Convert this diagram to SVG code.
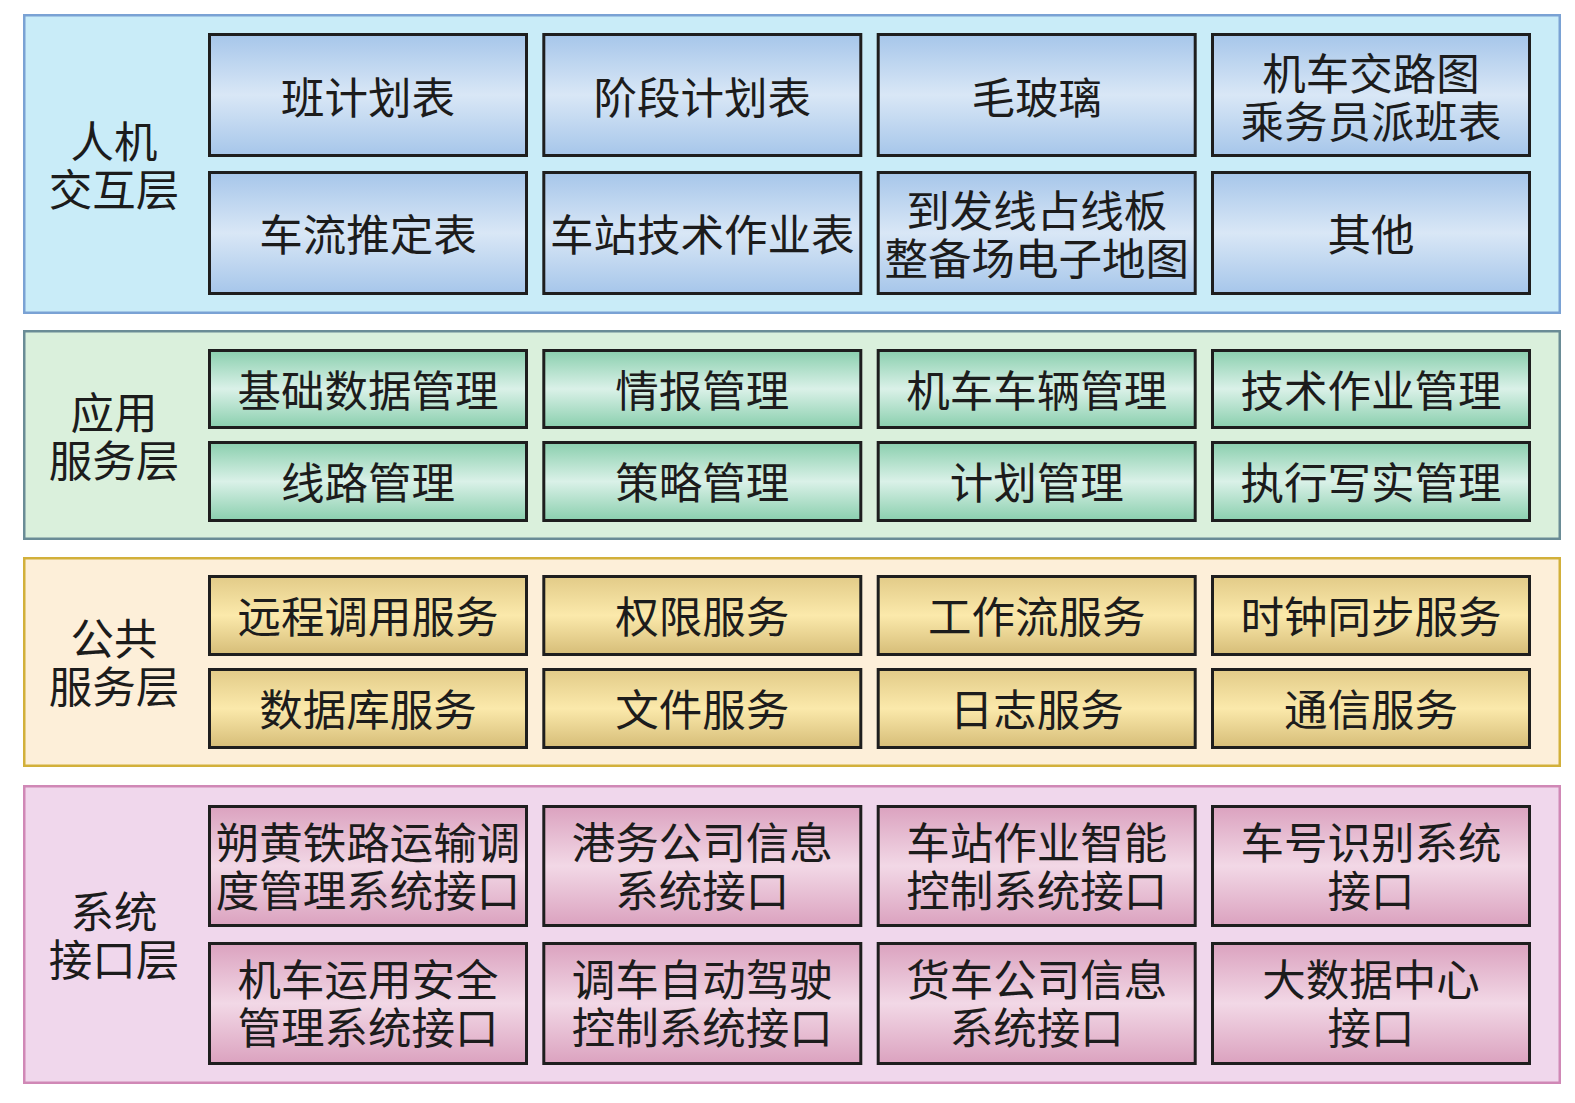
<svg xmlns="http://www.w3.org/2000/svg" width="1575" height="1103" viewBox="0 0 1575 1103">
<defs>
<linearGradient id="gBlue" x1="0" y1="0" x2="0" y2="1">
<stop offset="0" stop-color="#a6c6ea"/><stop offset="0.5" stop-color="#d9e7f6"/><stop offset="1" stop-color="#a6c6ea"/>
</linearGradient>
<linearGradient id="gGreen" x1="0" y1="0" x2="0" y2="1">
<stop offset="0" stop-color="#8acfae"/><stop offset="0.5" stop-color="#daf1e8"/><stop offset="1" stop-color="#8acfae"/>
</linearGradient>
<linearGradient id="gGold" x1="0" y1="0" x2="0" y2="1">
<stop offset="0" stop-color="#e2cb88"/><stop offset="0.5" stop-color="#fbe9ab"/><stop offset="1" stop-color="#d6bd78"/>
</linearGradient>
<linearGradient id="gPink" x1="0" y1="0" x2="0" y2="1">
<stop offset="0" stop-color="#dba2bf"/><stop offset="0.5" stop-color="#f2d8e6"/><stop offset="1" stop-color="#dba2bf"/>
</linearGradient>
</defs>
<style>
text{font-family:"Noto Sans CJK SC","Noto Sans CJK JP",sans-serif;fill:#1c1c1c;text-anchor:middle;dominant-baseline:central;}
.lbl{font-size:43.5px;}
.t{font-size:43.5px;}
.layer{stroke-width:2.5;}
.n{stroke:#1e1e1e;stroke-width:3;}
.blue{fill:url(#gBlue);}
.green{fill:url(#gGreen);}
.gold{fill:url(#gGold);}
.pink{fill:url(#gPink);}
</style>
<rect width="1575" height="1103" fill="#ffffff"/>

<!-- Layer 1 -->
<g id="layer-hci">
<rect class="layer" x="24.25" y="15.25" width="1535.5" height="297.5" fill="#c9ecf8" stroke="#7aa2d4"/>
<text class="lbl" x="114" y="139">人机</text>
<text class="lbl" x="114" y="187">交互层</text>
</g>
<g id="n-banjihua"><rect class="n blue" x="209.5" y="34.5" width="317" height="121"/><text class="t" x="368" y="95">班计划表</text></g>
<g id="n-jieduan"><rect class="n blue" x="543.8" y="34.5" width="317" height="121"/><text class="t" x="702.3" y="95">阶段计划表</text></g>
<g id="n-maoboli"><rect class="n blue" x="878.2" y="34.5" width="317" height="121"/><text class="t" x="1036.7" y="95">毛玻璃</text></g>
<g id="n-jiaolu"><rect class="n blue" x="1212.5" y="34.5" width="317" height="121"/><text class="t" x="1371" y="71">机车交路图</text><text class="t" x="1371" y="119">乘务员派班表</text></g>
<g id="n-cheliu"><rect class="n blue" x="209.5" y="172.5" width="317" height="121"/><text class="t" x="368" y="232">车流推定表</text></g>
<g id="n-chezhan"><rect class="n blue" x="543.8" y="172.5" width="317" height="121"/><text class="t" x="702.3" y="232">车站技术作业表</text></g>
<g id="n-daofa"><rect class="n blue" x="878.2" y="172.5" width="317" height="121"/><text class="t" x="1036.7" y="208">到发线占线板</text><text class="t" x="1036.7" y="256">整备场电子地图</text></g>
<g id="n-qita"><rect class="n blue" x="1212.5" y="172.5" width="317" height="121"/><text class="t" x="1371" y="232">其他</text></g>

<!-- Layer 2 -->
<g id="layer-app">
<rect class="layer" x="24.25" y="331.25" width="1535.5" height="207.5" fill="#daf0dc" stroke="#6a8c96"/>
<text class="lbl" x="114" y="410">应用</text>
<text class="lbl" x="114" y="458">服务层</text>
</g>
<g id="n-jichu"><rect class="n green" x="209.5" y="350.5" width="317" height="77"/><text class="t" x="368" y="388">基础数据管理</text></g>
<g id="n-qingbao"><rect class="n green" x="543.8" y="350.5" width="317" height="77"/><text class="t" x="702.3" y="388">情报管理</text></g>
<g id="n-jiche"><rect class="n green" x="878.2" y="350.5" width="317" height="77"/><text class="t" x="1036.7" y="388">机车车辆管理</text></g>
<g id="n-jishu"><rect class="n green" x="1212.5" y="350.5" width="317" height="77"/><text class="t" x="1371" y="388">技术作业管理</text></g>
<g id="n-xianlu"><rect class="n green" x="209.5" y="442.5" width="317" height="78"/><text class="t" x="368" y="480.5">线路管理</text></g>
<g id="n-celue"><rect class="n green" x="543.8" y="442.5" width="317" height="78"/><text class="t" x="702.3" y="480.5">策略管理</text></g>
<g id="n-jihua"><rect class="n green" x="878.2" y="442.5" width="317" height="78"/><text class="t" x="1036.7" y="480.5">计划管理</text></g>
<g id="n-zhixing"><rect class="n green" x="1212.5" y="442.5" width="317" height="78"/><text class="t" x="1371" y="480.5">执行写实管理</text></g>

<!-- Layer 3 -->
<g id="layer-common">
<rect class="layer" x="24.25" y="558.25" width="1535.5" height="207.5" fill="#fdefd9" stroke="#d2b03a"/>
<text class="lbl" x="114" y="636">公共</text>
<text class="lbl" x="114" y="684">服务层</text>
</g>
<g id="n-yuancheng"><rect class="n gold" x="209.5" y="576.5" width="317" height="78"/><text class="t" x="368" y="614">远程调用服务</text></g>
<g id="n-quanxian"><rect class="n gold" x="543.8" y="576.5" width="317" height="78"/><text class="t" x="702.3" y="614">权限服务</text></g>
<g id="n-gongzuoliu"><rect class="n gold" x="878.2" y="576.5" width="317" height="78"/><text class="t" x="1036.7" y="614">工作流服务</text></g>
<g id="n-shizhong"><rect class="n gold" x="1212.5" y="576.5" width="317" height="78"/><text class="t" x="1371" y="614">时钟同步服务</text></g>
<g id="n-shujuku"><rect class="n gold" x="209.5" y="669.5" width="317" height="78"/><text class="t" x="368" y="707">数据库服务</text></g>
<g id="n-wenjian"><rect class="n gold" x="543.8" y="669.5" width="317" height="78"/><text class="t" x="702.3" y="707">文件服务</text></g>
<g id="n-rizhi"><rect class="n gold" x="878.2" y="669.5" width="317" height="78"/><text class="t" x="1036.7" y="707">日志服务</text></g>
<g id="n-tongxin"><rect class="n gold" x="1212.5" y="669.5" width="317" height="78"/><text class="t" x="1371" y="707">通信服务</text></g>

<!-- Layer 4 -->
<g id="layer-interface">
<rect class="layer" x="24.25" y="786.25" width="1535.5" height="296.5" fill="#f0d7ec" stroke="#d088b6"/>
<text class="lbl" x="114" y="909">系统</text>
<text class="lbl" x="114" y="957">接口层</text>
</g>
<g id="n-shuohuang"><rect class="n pink" x="209.5" y="806.5" width="317" height="119"/><text class="t" x="368" y="840">朔黄铁路运输调</text><text class="t" x="368" y="888">度管理系统接口</text></g>
<g id="n-gangwu"><rect class="n pink" x="543.8" y="806.5" width="317" height="119"/><text class="t" x="702.3" y="840">港务公司信息</text><text class="t" x="702.3" y="888">系统接口</text></g>
<g id="n-zhineng"><rect class="n pink" x="878.2" y="806.5" width="317" height="119"/><text class="t" x="1036.7" y="840">车站作业智能</text><text class="t" x="1036.7" y="888">控制系统接口</text></g>
<g id="n-chehao"><rect class="n pink" x="1212.5" y="806.5" width="317" height="119"/><text class="t" x="1371" y="840">车号识别系统</text><text class="t" x="1371" y="888">接口</text></g>
<g id="n-anquan"><rect class="n pink" x="209.5" y="943.5" width="317" height="120"/><text class="t" x="368" y="977.5">机车运用安全</text><text class="t" x="368" y="1025.5">管理系统接口</text></g>
<g id="n-tiaoche"><rect class="n pink" x="543.8" y="943.5" width="317" height="120"/><text class="t" x="702.3" y="977.5">调车自动驾驶</text><text class="t" x="702.3" y="1025.5">控制系统接口</text></g>
<g id="n-huoche"><rect class="n pink" x="878.2" y="943.5" width="317" height="120"/><text class="t" x="1036.7" y="977.5">货车公司信息</text><text class="t" x="1036.7" y="1025.5">系统接口</text></g>
<g id="n-dashuju"><rect class="n pink" x="1212.5" y="943.5" width="317" height="120"/><text class="t" x="1371" y="977.5">大数据中心</text><text class="t" x="1371" y="1025.5">接口</text></g>

<g id="connectors"></g>
</svg>
